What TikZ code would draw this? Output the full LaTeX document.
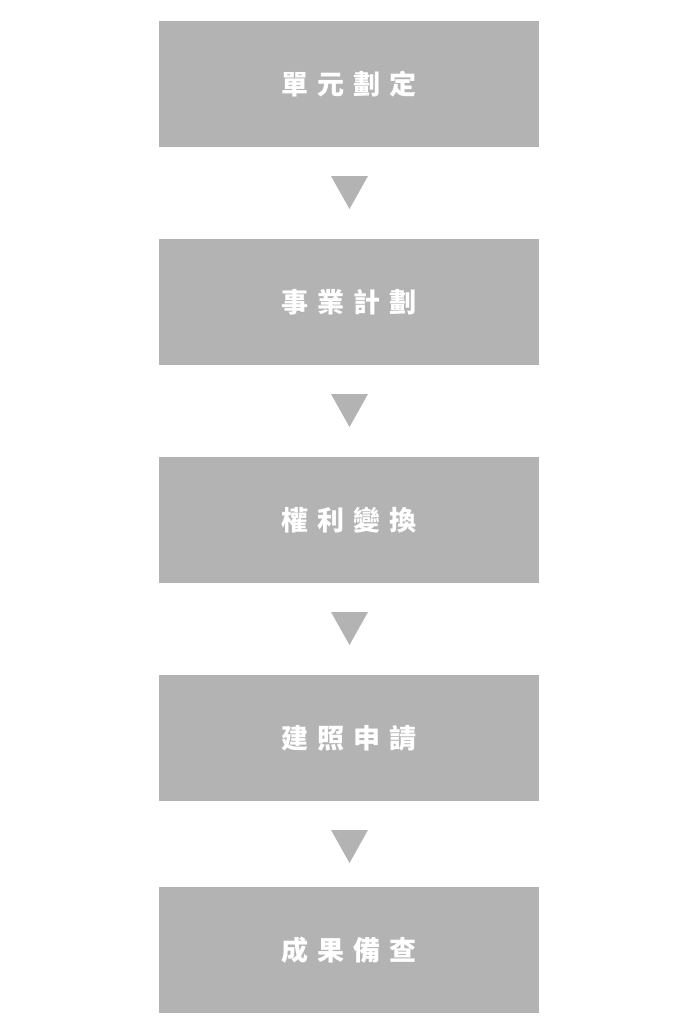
\documentclass[tikz,border=0pt]{standalone}
\usepackage{fontspec}
\newfontfamily\cjk{Noto Sans CJK TC}
\definecolor{boxgray}{HTML}{B3B3B3}
\tikzset{stepbox/.style={fill=boxgray,draw=none,minimum width=380pt,minimum height=126pt,inner sep=0pt,text=white,font=\cjk\bfseries\fontsize{27pt}{30pt}\selectfont},
tri/.style={fill=boxgray,draw=none}}
\newcommand{\chsp}{\hspace{9pt}}
\begin{document}
\begin{tikzpicture}[x=1pt,y=-1pt]
\useasboundingbox (0,0) rectangle (695,1034);
\node[stepbox] (a) at (349,84) {單\chsp 元\chsp 劃\chsp 定};
\node[stepbox] (b) at (349,302) {事\chsp 業\chsp 計\chsp 劃};
\node[stepbox] (c) at (349,520) {權\chsp 利\chsp 變\chsp 換};
\node[stepbox] (d) at (349,738) {建\chsp 照\chsp 申\chsp 請};
\node[stepbox] (e) at (349,950) {成\chsp 果\chsp 備\chsp 查};
\foreach \y in {176,394,612,830}{
  \fill[tri] (331,\y) -- (368,\y) -- (349.5,\y+33) -- cycle;
}
\end{tikzpicture}
\end{document}
